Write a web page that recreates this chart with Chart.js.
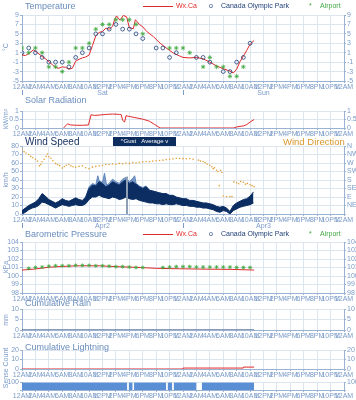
<!DOCTYPE html>
<html><head><meta charset="utf-8">
<script src="https://cdn.jsdelivr.net/npm/chart.js@4.4.1/dist/chart.umd.min.js"></script>
<style>
html,body{margin:0;padding:0;background:#fff}
body{width:356px;height:400px;position:relative;overflow:hidden;font-family:"Liberation Sans",Arial,sans-serif}
canvas{position:absolute;left:0}
.tt{position:absolute;left:25px;font-size:9px;color:#6a8dbd;white-space:nowrap;line-height:10px;z-index:2}
.yl{position:absolute;font-size:7px;color:#7b9bc8;transform:translate(-50%,-50%) rotate(-90deg);white-space:nowrap;line-height:1;z-index:2}
.lg{position:absolute;font-size:7px;white-space:nowrap;line-height:8px;z-index:2}
.btn{position:absolute;left:113px;top:137px;width:63px;height:9px;background:#0d2d5e;color:#fff;font-size:6px;line-height:9px;text-align:center;z-index:2;white-space:nowrap}
</style></head><body>
<canvas id="cTemp"></canvas>
<canvas id="cSolar"></canvas>
<canvas id="cWind"></canvas>
<canvas id="cPres"></canvas>
<canvas id="cRain"></canvas>
<canvas id="cLight"></canvas>
<canvas id="cSense"></canvas>

<div class="tt" style="top:1px">Temperature</div>
<div class="lg" style="left:143px;top:6px;width:30px;height:1px;background:#e02a2a"></div>
<div class="lg" style="left:176px;top:2px;color:#e02a2a">Wx.Ca</div>
<div class="lg" style="left:209px;top:2px;color:#1f3f77">o</div>
<div class="lg" style="left:221px;top:2px;color:#1f3f77">Canada Olympic Park</div>
<div class="lg" style="left:309px;top:2px;color:#41a843">*</div>
<div class="lg" style="left:320px;top:2px;color:#41a843">Airport</div>
<div class="yl" style="left:5px;top:47px">°C</div>

<div class="tt" style="top:95px">Solar Radiation</div>
<div class="yl" style="left:5px;top:119px">kW/m²</div>

<div class="tt" style="top:137px;color:#1a3566;font-size:10px">Wind Speed</div>
<div class="btn">^Gust&nbsp;&nbsp;&nbsp;Average v</div>
<div class="tt" style="top:137px;left:283px;color:#d9962b;font-size:9.5px">Wind Direction</div>
<div class="yl" style="left:5px;top:180px">km/h</div>

<div class="tt" style="top:229px">Barometric Pressure</div>
<div class="lg" style="left:143px;top:234px;width:30px;height:1px;background:#e02a2a"></div>
<div class="lg" style="left:176px;top:230px;color:#e02a2a">Wx.Ca</div>
<div class="lg" style="left:209px;top:230px;color:#1f3f77">o</div>
<div class="lg" style="left:221px;top:230px;color:#1f3f77">Canada Olympic Park</div>
<div class="lg" style="left:309px;top:230px;color:#41a843">*</div>
<div class="lg" style="left:320px;top:230px;color:#41a843">Airport</div>
<div class="yl" style="left:5px;top:267px">kPa</div>

<div class="tt" style="top:298px">Cumulative Rain</div>
<div class="yl" style="left:5px;top:320px">mm</div>

<div class="tt" style="top:342px">Cumulative Lightning</div>
<div class="yl" style="left:5px;top:368px">Sense Count</div>

<script>
// ---------- DATA ----------
const xTickLabels = ["12AM","2AM","4AM","6AM","8AM","10AM","12PM","2PM","4PM","6PM","8PM","10PM",
                     "12AM","2AM","4AM","6AM","8AM","10AM","12PM","2PM","4PM","6PM","8PM","10PM","12AM"];
const dayNames  = ["Sat","Sun"];
const dateNames = ["Apr2","Apr3"];
const dayCenters = [12,36];
const dayBounds  = [0,24];
const dirLabels = ["","NE","E","SE","S","SW","W","NW","N"];

// Temperature (°C), Wx.Ca line
const tempHours = [0,0.5,1,1.7,2.3,3,3.5,4,4.5,5,5.5,6,6.5,7,7.5,8,8.5,9,9.5,10,10.5,11,11.5,12,12.5,13,13.5,13.8,14.1,14.6,15.1,15.6,16,16.6,16.9,17.5,18,18.6,19.6,20.6,21.6,22.6,23.5,24,25,26,27,28,29,30,31,31.5,32,32.5,33,33.5,34,34.6];
const tempWx    = [0.5,0.4,0.8,1.6,1.0,0.2,-0.3,-0.9,-1.5,-2.1,-2.3,-2.0,-2.1,-2.5,-2.3,-0.8,-0.4,-0.1,0.1,0.5,2.5,4.6,5.3,5.5,6.2,6.0,6.6,8.0,8.8,7.9,8.9,8.6,6.3,6.1,8.0,7.0,6.5,5.5,4.4,3.0,1.9,0.9,0.3,0.0,-0.1,0.0,-0.3,-1.0,-1.8,-2.4,-2.9,-3.3,-2.5,-0.9,0.3,1.5,2.8,3.6];
// hourly station observations
const obsHours   = [0,1,2,3,4,5,6,7,8,9,10,11,12,13,14,15,16,17,18,19,20,21,22,23,24,25,26,27,28,29,30,31,32,33,34];
const tempCOP    = [1,2,1,0,-1,-1,-1,-2,0,1,2,5,5,6,7,6,6,5,4,null,2,2,0,1,null,null,0,0,-1,null,-3,-3,-1,0,3];
const tempAirport= [2,1,2,1,-2,-2,-3,-1,2,2,3,6,7,7,8,8,8,7,5,null,null,null,2,2,2,1,null,-2,0,-2,-2,-4,-4,-2,null];

// Solar radiation (kW/m²)
const solarHours = [6.2,6.8,7.2,8,9,9.9,10.3,10.8,11.5,12.5,13.5,14.5,14.8,15.0,15.3,15.5,16,17,18,19,19.8,20.6,24,28,31.5,32,32.5,33,33.5,34,34.6];
const solarWx    = [0,0.25,0.18,0.16,0.16,0.18,0.78,0.74,0.76,0.8,0.82,0.8,0.78,0.45,0.35,0.72,0.68,0.6,0.52,0.4,0.2,0,0,0,0,0.06,0.1,0.12,0.2,0.35,0.5];

// Wind speed (km/h): band of average wind, gusts
const windHours = [0,0.5,1,1.5,2,2.5,3,3.5,4,4.5,5,5.5,6,6.5,7,7.5,8,8.5,9,9.5,10,10.5,11,11.5,12,12.5,13,13.5,14,14.5,15,15.5,16,16.5,17,17.5,18,18.5,19,19.5,20,20.5,21,21.5,22,22.5,23,23.5,24,24.5,25,25.5,26,26.5,27,27.5,28,28.5,29,29.5,30,30.5,31,31.5,32,32.5,33,33.5,34,34.5];
const windLow  = [0,2,5,7,8,10,14,13,11,9, 7,9,11,10,9,10,11,10,10,12, 17,20,20,22,20,19,18,20,19,17, 18,20,18,17,18,16,15,14,13,13, 12,12,11,12,11,11,12,11,10,10, 9,9,8,8,7,7,6,5,3,2, 4,3,0,4,6,8,9,10,11,13];
const windHigh = [4,7,10,12,14,18,24,21,17,15, 13,15,18,16,15,17,19,17,16,20, 30,34,33,38,36,32,34,38,36,34, 38,40,36,38,35,32,30,32,28,27, 26,25,24,24,22,22,20,19,18,18, 16,16,15,14,13,13,12,11,9,8, 9,7,3,10,13,15,17,18,21,26];
const gustHours  = [9.5,10,10.5,11,11.3,11.5,12,12.3,12.6,13,13.5,14,14.5,15,15.5,16,16.5,16.8,17,17.5,18,18.5,19,19.5,20];
const gustValues = [20,32,36,34,45,39,37,48,34,36,41,38,36,41,43,38,42,45,36,33,31,33,28,27,26];
const gapHours = [15.65,15.65];
const gapValues = [0,44];
// Wind direction (degrees)
const dirHours = [0,0.3,0.6,1,1.3,1.6,2,2.3,2.6,2.8,3,3.3,3.6,3.8,4,4.3,4.6,5,5.3,5.6,6,6.3,6.6,7,7.3,7.6,8,8.5,9,9.5,10,10.5,11,11.5,12,12.5,13,13.5,14,14.5,15,15.5,16,16.5,17,17.5,18,18.5,19,19.5,20,20.5,21,21.5,22,22.5,23,23.5,24,24.5,25,25.5,26.3,26.6,27,27.3,27.6,28,28.3,28.5,28.7,29,29.2,29.4,29.6,29.8,30,30.5,31,31.3,31.6,32,32.3,32.6,33,33.3,33.6,34,34.3,34.6];
const dirDeg   = [345,330,323,315,305,298,290,280,255,262, 277,290,305,318,303,295,282,268,262,256, 243,250,258,262,255,250,248,252,255,245, 240,248,252,255,258,262,262,265,263,268, 266,270,268,272,270,274,276,278,277,280, 282,283,285,288,290,292,295,294,293,292, 294,290,285,280,278,272,265,258,250,240, 245,232,225,150,230,220,95,92,92,92, 170,165,160,172,168,158,162,155,150,145];

// Barometric pressure (kPa)
const presHours  = [0,1.7,4.2,8.1,11.6,14.1,17.6,20.1,23.5,27.9,31,34.6];
const presWx     = [100.7,100.8,101.05,101.2,101.2,101.1,101.0,100.9,100.85,100.8,100.78,100.7];
const presAirport= [null,100.9,101.0,101.05,101.15,101.2,101.2,101.2,101.25,101.25,101.25,101.2,101.2,101.15,101.1,101.1,101.05,101.0,101.0,null,null,101.0,101.05,101.1,101.1,101.1,101.05,101.05,101.05,101.05,101.05,101.05,101.0,101.0,101.0];

// Cumulative rain (mm)
const rainHours = [0,34.6];
const rainWx    = [0,0];
// Cumulative lightning (count)
const lightHours = [0,24,24,33,33,34.6];
const lightWx    = [0,0,1,1,2,2];
// Sensor reporting periods (count = 100 while reporting)
const senseStart = [0,15.9,16.7,21.7,22.6,26.8];
const senseEnd   = [15.7,16.5,21.5,22.4,26.0,34.6];
const senseLevel = 100;

// ---------- STYLE ----------
const AX='#7b9bc8', GRID='#dde5ef', BORDER='#9ab3d3';
const RED='#e02a2a', NAVY='#0b2d62', GREEN='#41a843', COPC='#1f3f77';
const pts=(xs,ys)=>xs.map((x,i)=>({x:x,y:ys[i]}));
const TF={size:7,family:'"Liberation Sans", Arial, sans-serif'};

const dayCfg = {};
const dayMarks = {
  id:'dayMarks',
  afterDraw(chart){
    const cfg = dayCfg[chart.canvas.id]; if(!cfg) return;
    const x = chart.scales.x, b = chart.chartArea.bottom, ctx = chart.ctx;
    ctx.save();
    ctx.fillStyle = AX; ctx.strokeStyle = AX; ctx.lineWidth = 1;
    ctx.font = '7px "Liberation Sans", Arial, sans-serif';
    ctx.textAlign = 'center'; ctx.textBaseline = 'middle';
    cfg.names.forEach((n,i)=>ctx.fillText(n, x.getPixelForValue(dayCenters[i]), b+12));
    dayBounds.forEach(v=>{ const p=Math.round(x.getPixelForValue(v))+0.5;
      ctx.beginPath(); ctx.moveTo(p,b+9); ctx.lineTo(p,b+14); ctx.stroke(); });
    ctx.restore();
  }
};

function xScale(h){
  return {type:'linear',min:0,max:48,
    afterFit:s=>{s.height=h;},
    grid:{color:GRID,tickLength:2,tickColor:BORDER},
    border:{color:BORDER},
    ticks:{stepSize:2,autoSkip:false,maxRotation:0,minRotation:0,padding:0,color:AX,font:TF,
      callback:v=>xTickLabels[Math.round(v/2)]}};
}
function yScale(pos,min,max,step,cb){
  return {type:'linear',position:pos,min:min,max:max,
    afterFit:s=>{s.width = pos==='left'?22:12;},
    grid:{color:GRID,drawOnChartArea:pos==='left',tickLength:2,tickColor:BORDER},
    border:{color:BORDER},
    ticks:{stepSize:step,padding:1,color:AX,font:TF,autoSkip:false,callback:cb||(v=>String(v))}};
}
function mk(id,top,h,padTop,xH,datasets,ymin,ymax,step,cb,cb2,r2){
  const cv=document.getElementById(id);
  cv.style.top=top+'px'; cv.width=356; cv.height=h;
  const scales={x:xScale(xH), y:yScale('left',ymin,ymax,step,cb)};
  scales.y2 = r2 ? yScale('right',r2[0],r2[1],r2[2],cb2) : yScale('right',ymin,ymax,step,cb2||cb);
  return new Chart(cv,{type:'line',data:{datasets:datasets},options:{
    responsive:false,animation:false,devicePixelRatio:1,
    layout:{autoPadding:false,padding:{top:padTop,left:0,right:0,bottom:0}},
    plugins:{legend:{display:false},tooltip:{enabled:false}},
    elements:{point:{radius:0},line:{tension:0}},
    scales:scales},plugins:[dayMarks]});
}

// Temperature
dayCfg.cTemp={names:dayNames};
mk('cTemp',0,99,15,18,[
  {data:pts(obsHours,tempCOP),showLine:false,pointStyle:'circle',pointRadius:1.9,pointBorderColor:COPC,pointBackgroundColor:'rgba(0,0,0,0)',pointBorderWidth:0.8},
  {data:pts(obsHours,tempAirport),showLine:false,pointStyle:'star',pointRadius:2.2,pointBorderColor:GREEN,pointBorderWidth:0.8},
  {data:pts(tempHours,tempWx),borderColor:RED,borderWidth:1}
],-5,9,2);

// Solar
mk('cSolar',100,38,11,10,[
  {data:pts(solarHours,solarWx),borderColor:RED,borderWidth:1}
],0,1,0.5);

// Wind
dayCfg.cWind={names:dateNames};
mk('cWind',136,94,10,16,[
  {data:pts(dirHours,dirDeg),yAxisID:'y2',showLine:false,pointRadius:0.8,pointBackgroundColor:'#e3a23b',pointBorderWidth:0},
  {data:pts(gapHours,gapValues),borderColor:'#8f9fb5',borderWidth:2},
  {data:pts(windHours,windHigh),borderColor:NAVY,borderWidth:1,fill:3,backgroundColor:NAVY},
  {data:pts(windHours,windLow),borderColor:NAVY,borderWidth:1},
  {data:pts(gustHours,gustValues),borderColor:'#5f86bd',borderWidth:1,fill:2,backgroundColor:'rgba(80,120,180,0.75)'}
],0,80,10,null,v=>dirLabels[Math.round(v/45)],[0,360,45]);

// Pressure
mk('cPres',231,71,11,9,[
  {data:pts(obsHours,presAirport),showLine:false,pointStyle:'star',pointRadius:2,pointBorderColor:GREEN,pointBorderWidth:0.8},
  {data:pts(presHours,presWx),borderColor:RED,borderWidth:1}
],98,104,1);

// Rain
mk('cRain',302,37,7,9,[
  {data:pts(rainHours,rainWx),borderColor:COPC,borderWidth:1.2}
],0,10,5);

// Lightning
mk('cLight',343,35,7,9,[
  {data:pts(lightHours,lightWx),borderColor:RED,borderWidth:1}
],0,20,10);

// Sense strip
const sensePts=[];
senseStart.forEach((s,i)=>{sensePts.push({x:s,y:senseLevel},{x:senseEnd[i],y:senseLevel},{x:senseEnd[i],y:null});});
mk('cSense',377,23,4,10,[
  {data:sensePts,borderColor:'#5b8fd5',borderWidth:0,fill:'origin',backgroundColor:'#5b8fd5',spanGaps:false}
],0,100,100,v=>v===0?'':String(v));
</script>
</body></html>
